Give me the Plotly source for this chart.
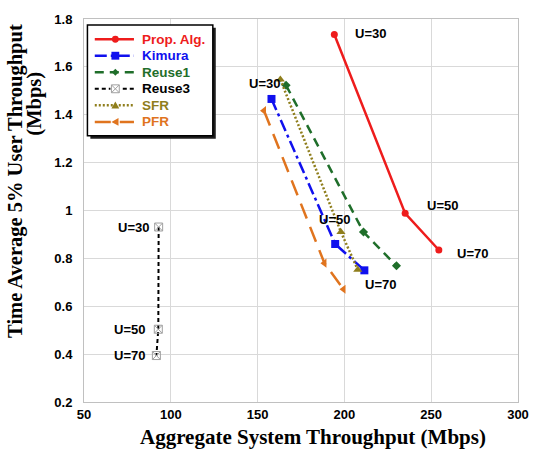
import plotly.graph_objects as go

# ---- data ----
users = ["U=30", "U=50", "U=70"]
series_names = ["Prop. Alg.", "Kimura", "Reuse1", "Reuse3", "SFR", "PFR"]
prop_x = [194.2, 235.0, 254.4]
prop_y = [1.735, 0.988, 0.835]
kim_x = [158.0, 194.7, 211.5]
kim_y = [1.466, 0.86, 0.75]
reuse1_x = [166.4, 211.0, 230.0]
reuse1_y = [1.523, 0.91, 0.769]
reuse3_x = [93.0, 92.8, 91.7]
reuse3_y = [0.931, 0.504, 0.394]
sfr_x = [163.1, 198.0, 207.7]
sfr_y = [1.547, 0.91, 0.753]
pfr_x = [153.7, 188.5, 199.5]
pfr_y = [1.417, 0.78, 0.671]

x_ticks = [50, 100, 150, 200, 250, 300]
y_ticks = [0.2, 0.4, 0.6, 0.8, 1.0, 1.2, 1.4, 1.6, 1.8]
y_tick_text = ["0.2", "0.4", "0.6", "0.8", "1", "1.2", "1.4", "1.6", "1.8"]

# ---- layout geometry ----
W, H = 541, 457
ML, MR, MT, MB = 84, 14, 13, 55
PW, PH = W - ML - MR, H - MT - MB


def px2paper(px, py):
    return (px - ML) / PW, (H - MB - py) / PH


RED = "#ee1c1c"
BLUE = "#1010ee"
GREEN = "#1f6e2a"
OLIVE = "#8f7e1c"
ORANGE = "#e0741e"
BLACK = "#000000"
GREY = "#a0a0a0"

styles = [
    dict(color=RED, width=2.5, dash="solid", symbol="circle", msize=7, mcolor=RED),
    dict(color=BLUE, width=2.5, dash="12px,4px,3px,4px", symbol="square", msize=8, mcolor=BLUE),
    dict(color=GREEN, width=2.5, dash="9px,6px", symbol="diamond", msize=7, mcolor=GREEN),
    dict(color=BLACK, width=2, dash="4px,3px", symbol="square-x-open", msize=8, mcolor=GREY),
    dict(color=OLIVE, width=2.5, dash="2px,2px", symbol="triangle-up", msize=8, mcolor=OLIVE),
    dict(color=ORANGE, width=2.5, dash="16px,9px", symbol="triangle-left", msize=8, mcolor=ORANGE),
]
xs = [prop_x, kim_x, reuse1_x, reuse3_x, sfr_x, pfr_x]
ys = [prop_y, kim_y, reuse1_y, reuse3_y, sfr_y, pfr_y]

fig = go.Figure()
for name, st, x, y in zip(series_names, styles, xs, ys):
    mk = dict(symbol=st["symbol"], size=st["msize"], color=st["mcolor"])
    if st["symbol"].endswith("open"):
        mk["line"] = dict(width=1, color=st["mcolor"])
    fig.add_trace(go.Scatter(x=x, y=y, mode="lines+markers", name=name, showlegend=False,
                             line=dict(color=st["color"], width=st["width"], dash=st["dash"]),
                             marker=mk))

ann_font = dict(family="Liberation Sans, Arial", size=13, color="#000000")
annotations = []
# Prop. Alg. labels
prop_off = [(19, 1), (20, 8), (16, -3)]
for i, (dx, dy) in enumerate(prop_off):
    annotations.append(dict(x=prop_x[i], y=prop_y[i], text=f"<b>{users[i]}</b>", showarrow=False,
                            xanchor="left", yanchor="middle", xshift=dx, yshift=dy, font=ann_font))
# cluster labels
annotations.append(dict(x=sfr_x[0], y=sfr_y[0], text=f"<b>{users[0]}</b>", showarrow=False,
                        xanchor="right", yanchor="middle", xshift=2, yshift=-4, font=ann_font))
annotations.append(dict(x=kim_x[1], y=kim_y[1], text=f"<b>{users[1]}</b>", showarrow=False,
                        xanchor="center", yanchor="middle", xshift=-1, yshift=25, font=ann_font))
annotations.append(dict(x=kim_x[2], y=kim_y[2], text=f"<b>{users[2]}</b>", showarrow=False,
                        xanchor="left", yanchor="middle", xshift=-1, yshift=-14, font=ann_font))
# Reuse3 labels
r3_off = [(-8, 0), (-11, 0), (-9, 0)]
for i, (dx, dy) in enumerate(r3_off):
    annotations.append(dict(x=reuse3_x[i], y=reuse3_y[i], text=f"<b>{users[i]}</b>", showarrow=False,
                            xanchor="right", yanchor="middle", xshift=dx, yshift=dy, font=ann_font))

# axis titles
title_font = dict(family="Liberation Serif, Times New Roman", size=21, color="#000000")
tx, ty = px2paper(318, 438)
annotations.append(dict(x=tx, y=ty, xref="paper", yref="paper", text="<b>Aggregate System Throughput (Mbps)</b>",
                        showarrow=False, xanchor="center", yanchor="middle", font=title_font))
tx, ty = px2paper(14, 177)
annotations.append(dict(x=tx, y=ty, xref="paper", yref="paper", text="<b>Time Average 5% User Throughput</b>",
                        showarrow=False, xanchor="center", yanchor="middle", textangle=-90,
                        font=dict(title_font, size=20.5)))
tx, ty = px2paper(34, 99)
annotations.append(dict(x=tx, y=ty, xref="paper", yref="paper", text="<b>(Mbps)</b>",
                        showarrow=False, xanchor="center", yanchor="middle", textangle=-90,
                        font=dict(title_font, size=20.5)))

# ---- hand-drawn legend box (decoration in paper space) ----
shapes = []
def rect_px(x0, y0, x1, y1, **kw):
    a0, b0 = px2paper(x0, y1)
    a1, b1 = px2paper(x1, y0)
    return dict(type="rect", xref="paper", yref="paper", x0=a0, y0=b0, x1=a1, y1=b1, layer="above", **kw)

shapes.append(rect_px(90.5, 22, 218.5, 134.5, fillcolor="#1e1e1e", line=dict(width=0)))
shapes.append(rect_px(87.5, 19, 215.5, 131.5, fillcolor="white", line=dict(width=1.5, color="#000000")))

row0, row_step = 33.5, 16.8
line_x0, line_x1, mark_x, text_x = 95, 135, 116, 141


def path_px(pts):
    s = ""
    for k, (px, py) in enumerate(pts):
        a, b = px2paper(px, py)
        s += ("M" if k == 0 else "L") + f"{a:.5f},{b:.5f}"
    return s + "Z"


for i, (name, st) in enumerate(zip(series_names, styles)):
    yy = row0 + i * row_step
    a0, b0 = px2paper(line_x0, yy)
    a1, _ = px2paper(line_x1, yy)
    shapes.append(dict(type="line", xref="paper", yref="paper", x0=a0, y0=b0, x1=a1, y1=b0, layer="above",
                       line=dict(color=st["color"], width=st["width"], dash=st["dash"])))
    r = st["msize"] / 2
    sym = st["symbol"]
    if sym == "circle":
        shapes.append(rect_px(mark_x - r, yy - r, mark_x + r, yy + r, fillcolor=st["mcolor"],
                              line=dict(width=0)) | dict(type="circle"))
    elif sym == "square":
        shapes.append(rect_px(mark_x - r, yy - r, mark_x + r, yy + r, fillcolor=st["mcolor"], line=dict(width=0)))
    elif sym == "square-x-open":
        shapes.append(rect_px(mark_x - r - 1, yy - r - 1, mark_x + r + 1, yy + r + 1, fillcolor="white",
                              line=dict(width=0)))
        shapes.append(rect_px(mark_x - r, yy - r, mark_x + r, yy + r, fillcolor="white",
                              line=dict(width=1, color=st["mcolor"])))
        shapes.append(dict(type="path", xref="paper", yref="paper", layer="above",
                           path=path_px([(mark_x - r, yy - r), (mark_x + r, yy + r)]).rstrip("Z"),
                           line=dict(width=1, color=st["mcolor"])))
        shapes.append(dict(type="path", xref="paper", yref="paper", layer="above",
                           path=path_px([(mark_x - r, yy + r), (mark_x + r, yy - r)]).rstrip("Z"),
                           line=dict(width=1, color=st["mcolor"])))
    elif sym == "diamond":
        shapes.append(dict(type="path", xref="paper", yref="paper", layer="above",
                           path=path_px([(mark_x, yy - r), (mark_x + r, yy), (mark_x, yy + r), (mark_x - r, yy)]),
                           fillcolor=st["mcolor"], line=dict(width=0)))
    elif sym == "triangle-up":
        shapes.append(dict(type="path", xref="paper", yref="paper", layer="above",
                           path=path_px([(mark_x, yy - r), (mark_x + r, yy + r * 0.8), (mark_x - r, yy + r * 0.8)]),
                           fillcolor=st["mcolor"], line=dict(width=0)))
    elif sym == "triangle-left":
        shapes.append(dict(type="path", xref="paper", yref="paper", layer="above",
                           path=path_px([(mark_x - r, yy), (mark_x + r * 0.8, yy - r), (mark_x + r * 0.8, yy + r)]),
                           fillcolor=st["mcolor"], line=dict(width=0)))
    ta, tb = px2paper(text_x, yy)
    annotations.append(dict(x=ta, y=tb, xref="paper", yref="paper", text=f"<b>{name}</b>", showarrow=False,
                            xanchor="left", yanchor="middle",
                            font=dict(family="Liberation Sans, Arial", size=13.5, color=st["color"])))

axis_common = dict(showgrid=True, gridcolor="#d9d9d9", gridwidth=1, showline=True, linecolor="#c0c0c0",
                   linewidth=1, mirror=True, zeroline=False, ticks="",
                   tickfont=dict(family="Liberation Sans, Arial", size=13, color="#000000", weight="bold"))
fig.update_layout(
    width=W, height=H,
    margin=dict(l=ML, r=MR, t=MT, b=MB, pad=0),
    paper_bgcolor="white", plot_bgcolor="white",
    xaxis=dict(range=[50, 300], tickvals=x_ticks, ticklabelstandoff=0, **axis_common),
    yaxis=dict(range=[0.2, 1.8], tickvals=y_ticks, ticktext=y_tick_text, ticklabelstandoff=8, **axis_common),
    showlegend=False,
    annotations=annotations,
    shapes=shapes,
)

fig.write_html("out.html")
